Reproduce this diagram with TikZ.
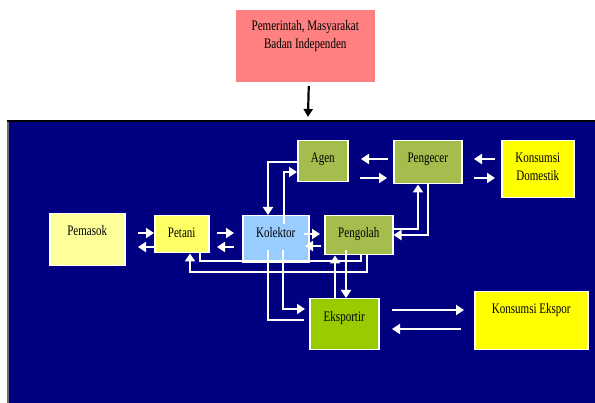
\documentclass[tikz,border=0pt]{standalone}
\usepackage{fontspec}
\setmainfont[FakeStretch=0.76]{Liberation Serif}
\usetikzlibrary{arrows.meta,calc}
\definecolor{navybg}{RGB}{0,0,128}
\definecolor{pinkbox}{RGB}{255,128,128}
\definecolor{olivebox}{RGB}{164,189,76}
\definecolor{eksgreen}{RGB}{153,204,0}
\definecolor{kolblue}{RGB}{153,204,255}
\definecolor{petyellow}{RGB}{255,255,102}
\definecolor{pemyellow}{RGB}{255,255,153}
\definecolor{konyellow}{RGB}{255,255,0}
\definecolor{leftgrey}{RGB}{110,110,110}
\tikzset{
  box/.style={draw=white,line width=1.5pt,inner sep=0pt,anchor=north west,text=black},
  wa/.style={draw=white,line width=1.8pt,-{Triangle[length=8pt,width=10pt]}},
  wl/.style={draw=white,line width=1.6pt},
  ba/.style={draw=black,line width=2.2pt,-{Triangle[length=8pt,width=9pt]}}
}
\begin{document}
\begin{tikzpicture}[x=1pt,y=-1pt,font=\fontsize{14.5}{18.5}\selectfont]
\useasboundingbox (0,0) rectangle (595,403);
\fill[white] (0,0) rectangle (595,403);
% background panel
\fill[navybg] (8,121) rectangle (600,410);
\draw[leftgrey,line width=1.2pt] (8,410) -- (8,121);
\draw[black,line width=1.2pt] (7.4,121) -- (600,121);
% boxes
\node[box,draw=none,fill=pinkbox,minimum width=139pt,text height=20.5pt,text depth=52pt] (pem) at (235,9)
  {\begin{tabular}[t]{@{}c@{}}Pemerintah, Masyarakat\\Badan Independen\end{tabular}};
\node[box,fill=olivebox,minimum width=50pt,text height=22pt,text depth=19pt] (agen) at (297,140) {Agen};
\node[box,fill=olivebox,minimum width=68pt,text height=22pt,text depth=21pt] (peng) at (393,140) {Pengecer};
\node[box,fill=konyellow,minimum width=72pt,text height=21.7pt,text depth=35.3pt] (kdom) at (501,140)
  {\begin{tabular}[t]{@{}c@{}}Konsumsi\\Domestik\end{tabular}};
\node[box,fill=pemyellow,minimum width=75pt,text height=22pt,text depth=30pt] (pemasok) at (49,213) {Pemasok};
\node[box,fill=petyellow,minimum width=54pt,text height=22pt,text depth=15pt] (petani) at (154,215) {Petani};
\node[box,fill=kolblue,minimum width=66pt,text height=22pt,text depth=25pt] (kol) at (242,215) {Kolektor};
\node[box,fill=olivebox,minimum width=68pt,text height=22pt,text depth=17pt] (olah) at (324,215) {Pengolah};
\node[box,fill=eksgreen,minimum width=69pt,text height=23pt,text depth=28pt] (eks) at (309,298) {Eksportir};
\node[box,fill=konyellow,minimum width=113pt,text height=22pt,text depth=36pt] (kexp) at (474,291) {Konsumsi Ekspor};
% free ends
\coordinate (topin) at (308,117);
\coordinate (ap1) at (388,159); \coordinate (ap2) at (361,159);
\coordinate (ap3) at (360,178); \coordinate (ap4) at (387,178);
\coordinate (pk1) at (495,159); \coordinate (pk2) at (474,159);
\coordinate (pk3) at (474,178); \coordinate (pk4) at (495,178);
\coordinate (pp1) at (138,233); \coordinate (pp2) at (138,247);
\coordinate (tk1) at (217,233); \coordinate (tk2) at (234,233);
\coordinate (tk3) at (234,247); \coordinate (tk4) at (217,247);
\coordinate (ko1) at (304,234); \coordinate (ko2) at (320,234);
\coordinate (ko3) at (321,246); \coordinate (ko4) at (305,246);
\coordinate (kin1) at (284,224);
\coordinate (kin2) at (268,250); \coordinate (kin3) at (283,250);
\coordinate (ke1) at (304,320); \coordinate (ke2) at (305,309);
\coordinate (oin) at (346,250);
\coordinate (ex1) at (392,310); \coordinate (ex2) at (464,310);
\coordinate (ex3) at (461,329); \coordinate (ex4) at (392,329);
% connectors
\draw[ba] ($(pem.south)+(3.5,3)$) -- (topin);
\draw[wa] (ap1) -- (ap2);
\draw[wa] (ap3) -- (ap4);
\draw[wa] (pk1) -- (pk2);
\draw[wa] (pk3) -- (pk4);
\draw[wa] (pp1) -- (petani.west |- pp1);
\draw[wa] (petani.west |- pp2) -- (pp2);
\draw[wa] (tk1) -- (tk2);
\draw[wa] (tk3) -- (tk4);
\draw[wa] (ko1) -- (ko2);
\draw[wa] (ko3) -- (ko4);
\draw[wa] (agen.west |- 0,162) -| (kol.north -| 268,0);
\draw[wa] (kin1) |- (agen.west |- 0,172);
\draw[wa] (olah.east |- 0,229) -| (peng.south -| 418,0);
\draw[wa] (peng.south -| 428,0) |- (olah.east |- 0,235);
\draw[wl] (petani.south -| 200,0) |- (361,261) -- (olah.south -| 361,0);
\draw[wa] (olah.south -| 367,0) |- (190,272) -- (petani.south -| 190,0);
\draw[wl] (kin2) |- (ke1);
\draw[wa] (kin3) |- (ke2);
\draw[wa] (eks.north -| 335,0) -- (olah.south -| 335,0);
\draw[wa] (oin) -- (eks.north -| 346,0);
\draw[wa] (ex1) -- (ex2);
\draw[wa] (ex3) -- (ex4);
\end{tikzpicture}
\end{document}
